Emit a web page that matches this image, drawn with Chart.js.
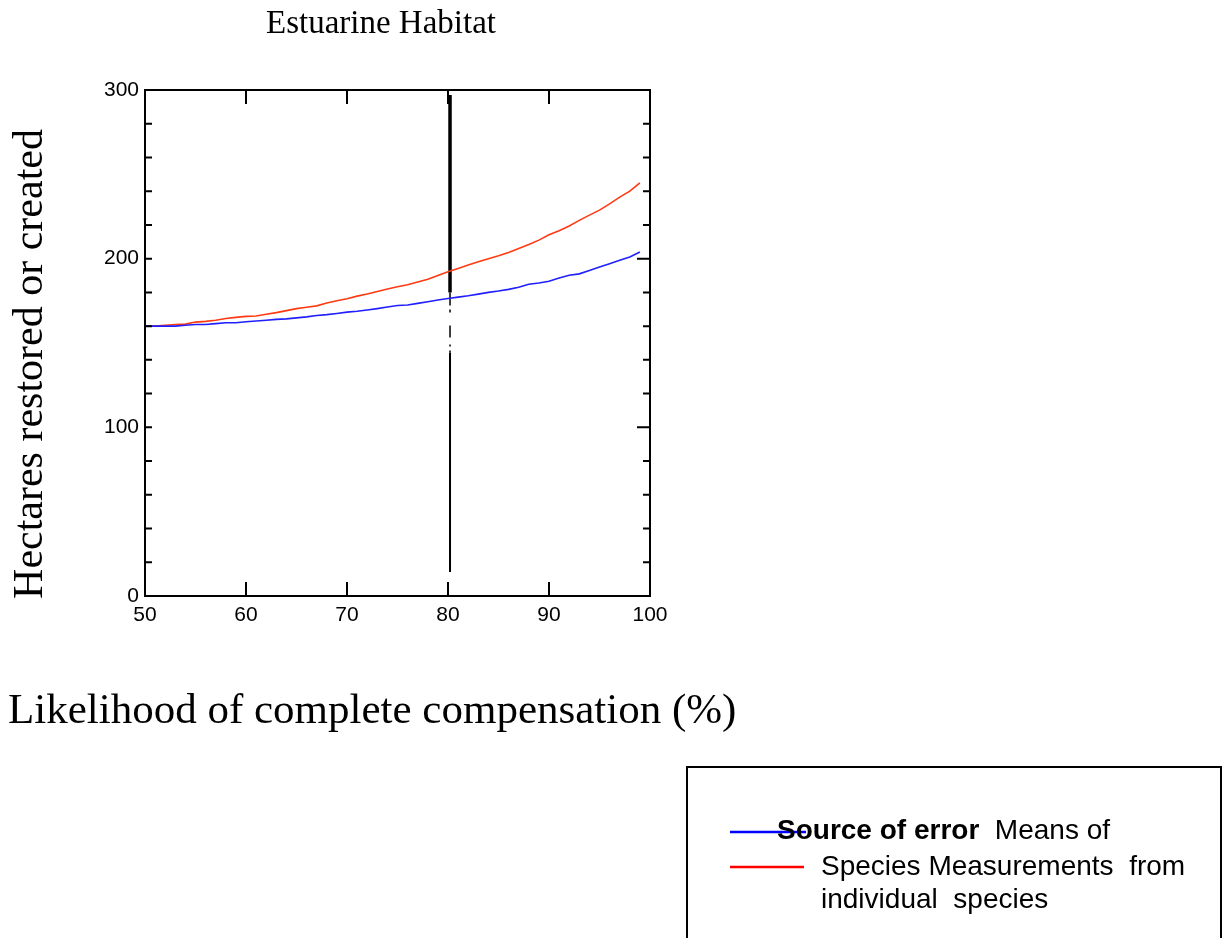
<!DOCTYPE html>
<html lang="en">
  <head>
    <meta charset="UTF-8" />
    <title>Estuarine Habitat</title>
    <script src="https://cdn.jsdelivr.net/npm/chart.js"></script>
    <style>
      html, body { margin: 0; padding: 0; background: #fff; overflow: hidden; }
      canvas { display: block; }
    </style>
  </head>
  <body>
    <canvas id="chart" width="1223" height="938"></canvas>
    <script>
      // likelihood of complete compensation (%)
      const likelihood = [50, 51, 52, 53, 54, 55, 56, 57, 58, 59,
        60, 61, 62, 63, 64, 65, 66, 67, 68, 69,
        70, 71, 72, 73, 74, 75, 76, 77, 78, 79,
        80, 81, 82, 83, 84, 85, 86, 87, 88, 89,
        90, 91, 92, 93, 94, 95, 96, 97, 98, 99];

      // hectares, error from means of species measurements (blue)
      const meansOfSpecies = [160, 160, 160, 160, 160.5, 161, 161, 161.5, 162, 162,
        162.6, 163, 163.5, 164, 164.3, 164.9, 165.5, 166.3, 166.8, 167.5,
        168.3, 168.8, 169.6, 170.4, 171.3, 172.2, 172.5, 173.5, 174.5, 175.5,
        176.4, 177.2, 178, 179, 180, 180.8, 181.8, 183, 184.8, 185.6,
        186.6, 188.5, 190.2, 191, 193, 195, 197, 199, 201, 204];

      // hectares, error from individual species (red)
      const individualSpecies = [160, 160, 160.5, 161, 161.2, 162.4, 162.8, 163.5, 164.5, 165.2,
        165.8, 166, 167, 168, 169.2, 170.4, 171.2, 172, 173.7, 175,
        176.2, 177.8, 179, 180.5, 182, 183.3, 184.5, 186.2, 187.8, 190,
        192.3, 194.2, 196.2, 198.2, 200, 201.7, 203.7, 206, 208.4, 211,
        214.2, 216.5, 219.4, 222.7, 225.8, 228.8, 232.5, 236.5, 240, 245];

      // vertical marker at 80 %
      const markerX = 80.2;
      const markerThick = [297, 180];
      const markerBroken = [180, 144.4];
      const markerThin = [144.4, 14.3];

      const yTicks = [0, 100, 200, 300];
      const xTicks = [50, 60, 70, 80, 90, 100];

      const seriesLabels = ["Means of Species Measurements", "from individual species"];

      const toPts = (xs, ys) => xs.map((x, i) => ({ x: x, y: ys[i] }));
      const vert = (ys) => ys.map((y) => ({ x: markerX, y: y }));

      const frame = {
        id: "frame",
        afterDraw(chart) {
          const { ctx, chartArea: a, scales } = chart;
          const xs = scales.x, ys = scales.y;
          ctx.save();
          ctx.strokeStyle = "#000";
          ctx.lineWidth = 2;
          ctx.strokeRect(a.left, a.top, a.right - a.left, a.bottom - a.top);
          ctx.beginPath();
          for (let v = 20; v < 300; v += 20) {
            const py = ys.getPixelForValue(v);
            const major = v % 100 === 0;
            ctx.moveTo(a.left, py);
            ctx.lineTo(a.left + 7, py);
            ctx.moveTo(a.right, py);
            ctx.lineTo(a.right - (major ? 13 : 7), py);
          }
          for (let v = 60; v < 100; v += 10) {
            const px = xs.getPixelForValue(v);
            ctx.moveTo(px, a.bottom);
            ctx.lineTo(px, a.bottom - 14);
            ctx.moveTo(px, a.top);
            ctx.lineTo(px, a.top + 14);
          }
          ctx.stroke();

          // titles
          ctx.fillStyle = "#000";
          ctx.textBaseline = "alphabetic";
          ctx.textAlign = "center";
          ctx.font = "33px 'Liberation Serif', 'Times New Roman', serif";
          ctx.fillText("Estuarine Habitat", 381, 33, 234);
          ctx.textAlign = "left";
          ctx.font = "43px 'Liberation Serif', 'Times New Roman', serif";
          ctx.fillText("Likelihood of complete compensation (%)", 8, 723, 734);
          ctx.save();
          ctx.translate(42, 364);
          ctx.rotate(-Math.PI / 2);
          ctx.textAlign = "center";
          ctx.font = "42px 'Liberation Serif', 'Times New Roman', serif";
          ctx.fillText("Hectares restored or created", 0, 0, 474);
          ctx.restore();

          // legend box
          ctx.lineWidth = 2;
          ctx.strokeRect(687, 767, 534, 300);
          ctx.lineWidth = 2.5;
          ctx.strokeStyle = "#0000ff";
          ctx.beginPath();
          ctx.moveTo(730, 832);
          ctx.lineTo(806, 832);
          ctx.stroke();
          ctx.strokeStyle = "#ff0000";
          ctx.beginPath();
          ctx.moveTo(730, 867);
          ctx.lineTo(804, 867);
          ctx.stroke();
          ctx.fillStyle = "#000";
          ctx.font = "bold 28px 'Liberation Sans', Arial, sans-serif";
          ctx.fillText("Source of error", 777, 839);
          const w = ctx.measureText("Source of error  ").width;
          ctx.font = "28px 'Liberation Sans', Arial, sans-serif";
          ctx.fillText("Means of", 777 + w, 839);
          ctx.fillText("Species Measurements  from", 821, 875);
          ctx.fillText("individual  species", 821, 908);
          ctx.restore();
        },
      };

      new Chart(document.getElementById("chart"), {
        type: "scatter",
        data: {
          datasets: [
            {
              label: seriesLabels[0],
              data: toPts(likelihood, meansOfSpecies),
              showLine: true,
              borderColor: "#1f1fff",
              borderWidth: 1.6,
              pointRadius: 0,
            },
            {
              label: seriesLabels[1],
              data: toPts(likelihood, individualSpecies),
              showLine: true,
              borderColor: "#ff3a12",
              borderWidth: 1.6,
              pointRadius: 0,
            },
            {
              label: "marker",
              data: vert(markerThick),
              showLine: true,
              borderColor: "#000",
              borderWidth: 3.5,
              pointRadius: 0,
            },
            {
              label: "marker",
              data: vert(markerBroken),
              showLine: true,
              borderColor: "#000",
              borderWidth: 1.5,
              borderDash: [13, 4, 3, 13, 12, 7, 2, 4],
              pointRadius: 0,
            },
            {
              label: "marker",
              data: vert(markerThin),
              showLine: true,
              borderColor: "#000",
              borderWidth: 2,
              pointRadius: 0,
            },
          ],
        },
        options: {
          responsive: false,
          animation: false,
          layout: { padding: { top: 90, right: 573, bottom: 302, left: 0 } },
          plugins: { legend: { display: false }, tooltip: { enabled: false } },
          scales: {
            x: {
              type: "linear",
              min: 50,
              max: 100,
              afterBuildTicks: (s) => { s.ticks = xTicks.map((v) => ({ value: v })); },
              afterFit: (s) => { s.height = 40; },
              grid: { display: false },
              border: { display: false },
              ticks: {
                padding: -1,
                color: "#000",
                font: { family: "'Liberation Sans', Arial, sans-serif", size: 21 },
              },
            },
            y: {
              min: 0,
              max: 300,
              afterBuildTicks: (s) => { s.ticks = yTicks.map((v) => ({ value: v })); },
              afterFit: (s) => { s.width = 145; },
              grid: { display: false },
              border: { display: false },
              ticks: {
                padding: -2,
                color: "#000",
                font: { family: "'Liberation Sans', Arial, sans-serif", size: 21 },
              },
            },
          },
        },
        plugins: [frame],
      });
    </script>
  </body>
</html>
